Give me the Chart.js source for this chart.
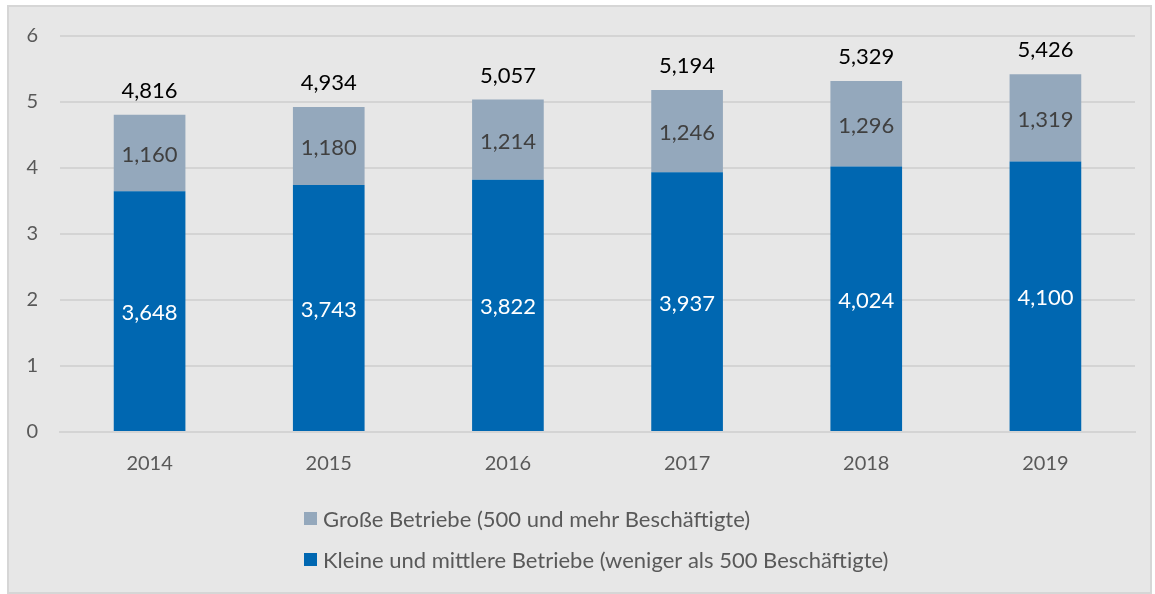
<!DOCTYPE html>
<html>
<head>
<meta charset="utf-8">
<script src="https://cdn.jsdelivr.net/npm/chart.js@4/dist/chart.umd.min.js"></script>
<style>
html,body{margin:0;padding:0;background:#ffffff;}
#wrap{position:absolute;left:0;top:0;width:1155px;height:594px;}
</style>
</head>
<body>
<div id="wrap"><canvas id="c" width="1155" height="594"></canvas></div>
<script>
const categories = ['2014','2015','2016','2017','2018','2019'];
const kleine = [3.648, 3.743, 3.822, 3.937, 4.024, 4.100];
const grosse = [1.160, 1.180, 1.214, 1.246, 1.296, 1.319];
const totals = [4.816, 4.934, 5.057, 5.194, 5.329, 5.426];
const yTicks = [0, 1, 2, 3, 4, 5, 6];
const seriesNames = ['Kleine und mittlere Betriebe (weniger als 500 Beschäftigte)', 'Große Betriebe (500 und mehr Beschäftigte)'];

const FONT = 'Lato, "Open Sans", sans-serif';
const fmt = v => v.toFixed(3).replace('.', ',');

const framePlugin = {
  id: 'frame',
  beforeDraw(chart) {
    const ctx = chart.ctx;
    ctx.save();
    ctx.fillStyle = '#e7e7e7';
    ctx.fillRect(8, 6, 1143, 587);
    ctx.strokeStyle = '#d6d6d6';
    ctx.lineWidth = 2;
    ctx.strokeRect(8, 6, 1143, 587);
    ctx.restore();
  }
};

const labelPlugin = {
  id: 'labels',
  afterDatasetsDraw(chart) {
    const ctx = chart.ctx;
    ctx.save();
    ctx.textAlign = 'center';
    ctx.textBaseline = 'middle';
    ctx.font = '22px ' + FONT;
    const m0 = chart.getDatasetMeta(0), m1 = chart.getDatasetMeta(1);
    m0.data.forEach((bar, i) => {
      ctx.fillStyle = '#ffffff';
      ctx.fillText(fmt(kleine[i]), bar.x, (bar.y + bar.base) / 2 + 2);
    });
    m1.data.forEach((bar, i) => {
      ctx.fillStyle = '#404040';
      ctx.fillText(fmt(grosse[i]), bar.x, (bar.y + bar.base) / 2 + 2);
      ctx.fillStyle = '#000000';
      ctx.fillText(fmt(totals[i]), bar.x, bar.y - 24);
    });
    // legend (vertical)
    const items = [
      {text: seriesNames[1], color: '#94a8bc', y: 519},
      {text: seriesNames[0], color: '#0067b1', y: 560}
    ];
    ctx.font = '22px ' + FONT;
    ctx.textAlign = 'left';
    items.forEach(it => {
      ctx.fillStyle = it.color;
      ctx.fillRect(304, it.y - 7, 13, 13);
      ctx.fillStyle = '#595959';
      ctx.fillText(it.text, 323, it.y + 1);
    });
    ctx.restore();
  }
};

new Chart(document.getElementById('c'), {
  type: 'bar',
  data: {
    labels: categories,
    datasets: [
      {label: seriesNames[0], data: kleine, backgroundColor: '#0067b1', barPercentage: 0.8, categoryPercentage: 0.5},
      {label: seriesNames[1], data: grosse, backgroundColor: '#94a8bc', barPercentage: 0.8, categoryPercentage: 0.5}
    ]
  },
  options: {
    responsive: false,
    animation: false,
    devicePixelRatio: 1,
    layout: {padding: {left: 8, right: 20, top: 36, bottom: 0}},
    plugins: {legend: {display: false}, tooltip: {enabled: false}},
    scales: {
      x: {
        stacked: true,
        grid: {display: false, drawTicks: false},
        border: {display: true, color: '#d4d4d4', width: 2},
        ticks: {color: '#595959', font: {family: FONT, size: 20}, padding: 20},
        afterFit(s) { s.height = 162; }
      },
      y: {
        stacked: true,
        min: 0, max: 6,
        afterBuildTicks(s) { s.ticks = yTicks.map(v => ({value: v})); },
        grid: {color: '#d4d4d4', lineWidth: 2, drawTicks: false},
        border: {display: false},
        ticks: {color: '#595959', font: {family: FONT, size: 20}, padding: 22},
        afterFit(s) { s.width = 52; }
      }
    }
  },
  plugins: [framePlugin, labelPlugin]
});
</script>
</body>
</html>
